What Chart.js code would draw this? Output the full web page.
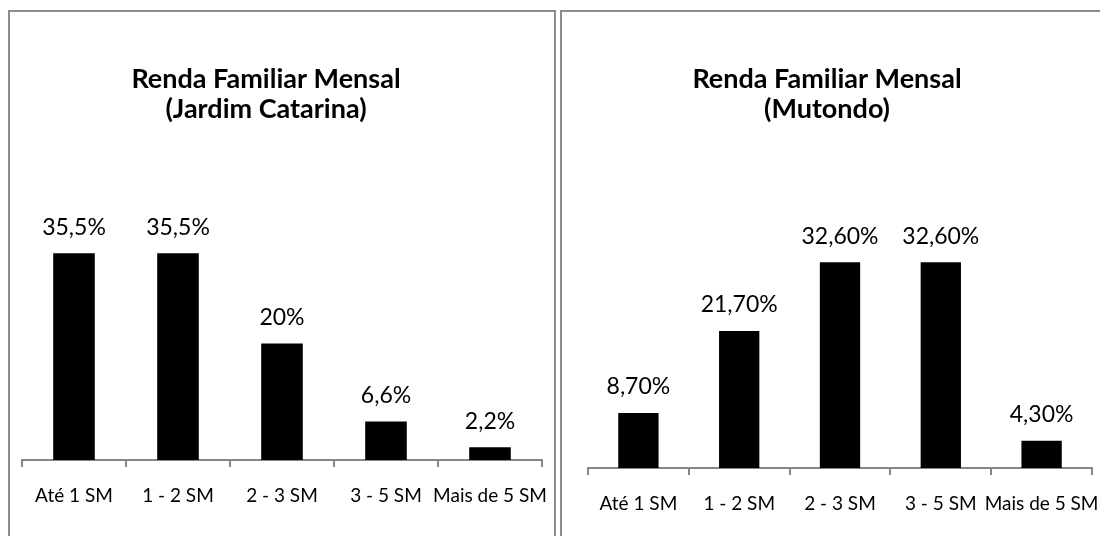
<!DOCTYPE html>
<html>
<head>
<meta charset="utf-8">
<script src="https://cdn.jsdelivr.net/npm/chart.js@4.4.1/dist/chart.umd.min.js"></script>
<style>
  html, body { margin: 0; padding: 0; background: #fff; overflow: hidden; }
  body { width: 1100px; height: 536px; position: relative; }
  canvas { position: absolute; top: 0; }
  #c1 { left: 0; }
  #c2 { left: 556px; }
  .frame { position: absolute; top: 10px; height: 600px; border: 2px solid #8c8c8c; box-sizing: border-box; pointer-events: none; }
  #f1 { left: 8px; width: 548px; }
  #f2 { left: 560px; width: 600px; }
</style>
</head>
<body>
<canvas id="c1" width="556" height="536"></canvas>
<canvas id="c2" width="544" height="536"></canvas>
<div class="frame" id="f1"></div>
<div class="frame" id="f2"></div>
<script>
// categorias de renda (eixo x)
const categories = ['Até 1 SM', '1 - 2 SM', '2 - 3 SM', '3 - 5 SM', 'Mais de 5 SM'];

// Jardim Catarina
const jardimTitle = ['Renda Familiar Mensal', '(Jardim Catarina)'];
const jardimValues = [35.5, 35.5, 20, 6.6, 2.2];
const jardimLabels = ['35,5%', '35,5%', '20%', '6,6%', '2,2%'];

// Mutondo
const mutondoTitle = ['Renda Familiar Mensal', '(Mutondo)'];
const mutondoValues = [8.7, 21.7, 32.6, 32.6, 4.3];
const mutondoLabels = ['8,70%', '21,70%', '32,60%', '32,60%', '4,30%'];

const FONT = 'Lato, Carlito, Calibri, "Open Sans", sans-serif';

// titre dessiné à une position fixe
const titlePlugin = {
  id: 'fixedTitle',
  afterDraw(chart, args, opts) {
    const ctx = chart.ctx;
    ctx.save();
    ctx.fillStyle = '#000';
    ctx.font = 'bold 27px ' + FONT;
    ctx.textAlign = 'center';
    ctx.textBaseline = 'middle';
    opts.lines.forEach((l, i) => ctx.fillText(l, opts.x, opts.y + i * 30));
    ctx.restore();
  }
};

// étiquettes de valeur au-dessus des barres
const valueLabels = {
  id: 'valueLabels',
  afterDatasetsDraw(chart, args, opts) {
    const ctx = chart.ctx;
    const meta = chart.getDatasetMeta(0);
    ctx.save();
    ctx.fillStyle = '#000';
    ctx.font = '23px ' + FONT;
    ctx.textAlign = 'center';
    ctx.textBaseline = 'middle';
    meta.data.forEach((bar, i) => {
      ctx.fillText(opts.labels[i], bar.x, bar.y - 26);
    });
    ctx.restore();
  }
};

function makeChart(id, values, labels, title, cfg) {
  return new Chart(document.getElementById(id), {
    type: 'bar',
    data: {
      labels: categories,
      datasets: [{
        data: values,
        backgroundColor: '#000',
        borderWidth: 0,
        barPercentage: 0.4,
        categoryPercentage: 1
      }]
    },
    options: {
      responsive: false,
      animation: false,
      layout: { padding: { top: cfg.top, left: cfg.left, right: cfg.right, bottom: 0 } },
      scales: {
        x: {
          grid: { offset: true, drawOnChartArea: false, drawTicks: true, tickLength: 7, color: '#868686', lineWidth: 2 },
          border: { display: true, color: '#868686', width: 2 },
          ticks: { color: '#000', font: { family: FONT, size: 19 }, padding: 17, maxRotation: 0, autoSkip: false },
          afterFit(scale) {
            scale.height = cfg.axisH;
            // pas de marge supplémentaire pour les étiquettes qui débordent
            scale.paddingLeft = 0;
            scale.paddingRight = 0;
          }
        },
        y: { display: false, min: 0, max: cfg.max }
      },
      plugins: {
        legend: { display: false },
        tooltip: { enabled: false },
        fixedTitle: { lines: title, x: cfg.titleX, y: 79 },
        valueLabels: { labels: labels }
      }
    },
    plugins: [titlePlugin, valueLabels]
  });
}

makeChart('c1', jardimValues, jardimLabels, jardimTitle,
  { top: 227, left: 22, right: 14, axisH: 76, max: 40, titleX: 266 });
makeChart('c2', mutondoValues, mutondoLabels, mutondoTitle,
  { top: 247, left: 32, right: 8, axisH: 68, max: 35, titleX: 271 });
</script>
</body>
</html>
